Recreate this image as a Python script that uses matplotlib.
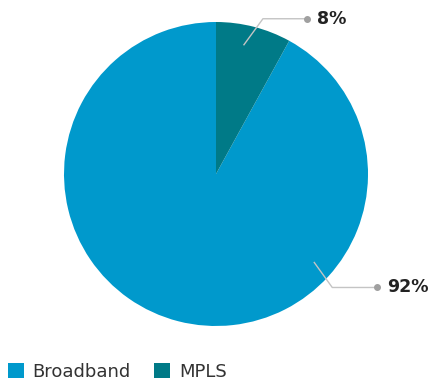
import matplotlib.pyplot as plt
import numpy as np
from matplotlib.patches import Patch

labels = ['Broadband', 'MPLS']
shares = [92, 8]
colors = ['#0099cc', '#007a87']

W, H = 429, 385
fig = plt.figure(figsize=(W / 100, H / 100), dpi=100)
ax = fig.add_axes([0, 0, 1, 1])

cx, cy, R = 216, 211, 152
wedges, _ = ax.pie(shares, colors=colors, startangle=90, counterclock=True,
                   center=(cx, cy), radius=R, frame=True,
                   wedgeprops=dict(linewidth=0))
ax.set_xlim(0, W)
ax.set_ylim(0, H)
ax.axis('off')

# leader lines: start inside the wedge, bend, run horizontally to a dot
leaders = [
    # (angle of start point, elbow dx, elbow dy, horizontal length)
    (-42, 18, -25, 45),
    (77.8, 19, 26, 44),
]
for (ang, ex, ey, hl), val in zip(leaders, shares):
    a = np.deg2rad(ang)
    x0 = cx + 0.87 * R * np.cos(a)
    y0 = cy + 0.87 * R * np.sin(a)
    x1, y1 = x0 + ex, y0 + ey
    x2 = x1 + hl
    ax.plot([x0, x1, x2], [y0, y1, y1], color='#c4c4c4', lw=1, zorder=3)
    ax.plot([x2], [y1], 'o', color='#a0a0a0', ms=4, zorder=4)
    ax.text(x2 + 10, y1, f'{val}%', ha='left', va='center',
            fontsize=12.5, fontweight='bold', color='#222222',
            family='DejaVu Sans')

handles = [Patch(facecolor=c, edgecolor='none') for c in colors]
ax.legend(handles, labels, loc='lower left', bbox_to_anchor=(-0.01, -0.022),
          ncol=2, frameon=False, handlelength=0.85,
          handleheight=0.85, handletextpad=0.5, columnspacing=1.3,
          borderaxespad=0.3, prop={'family': 'DejaVu Sans', 'size': 13},
          labelcolor='#333333')

fig.savefig('out.png', dpi=100)
